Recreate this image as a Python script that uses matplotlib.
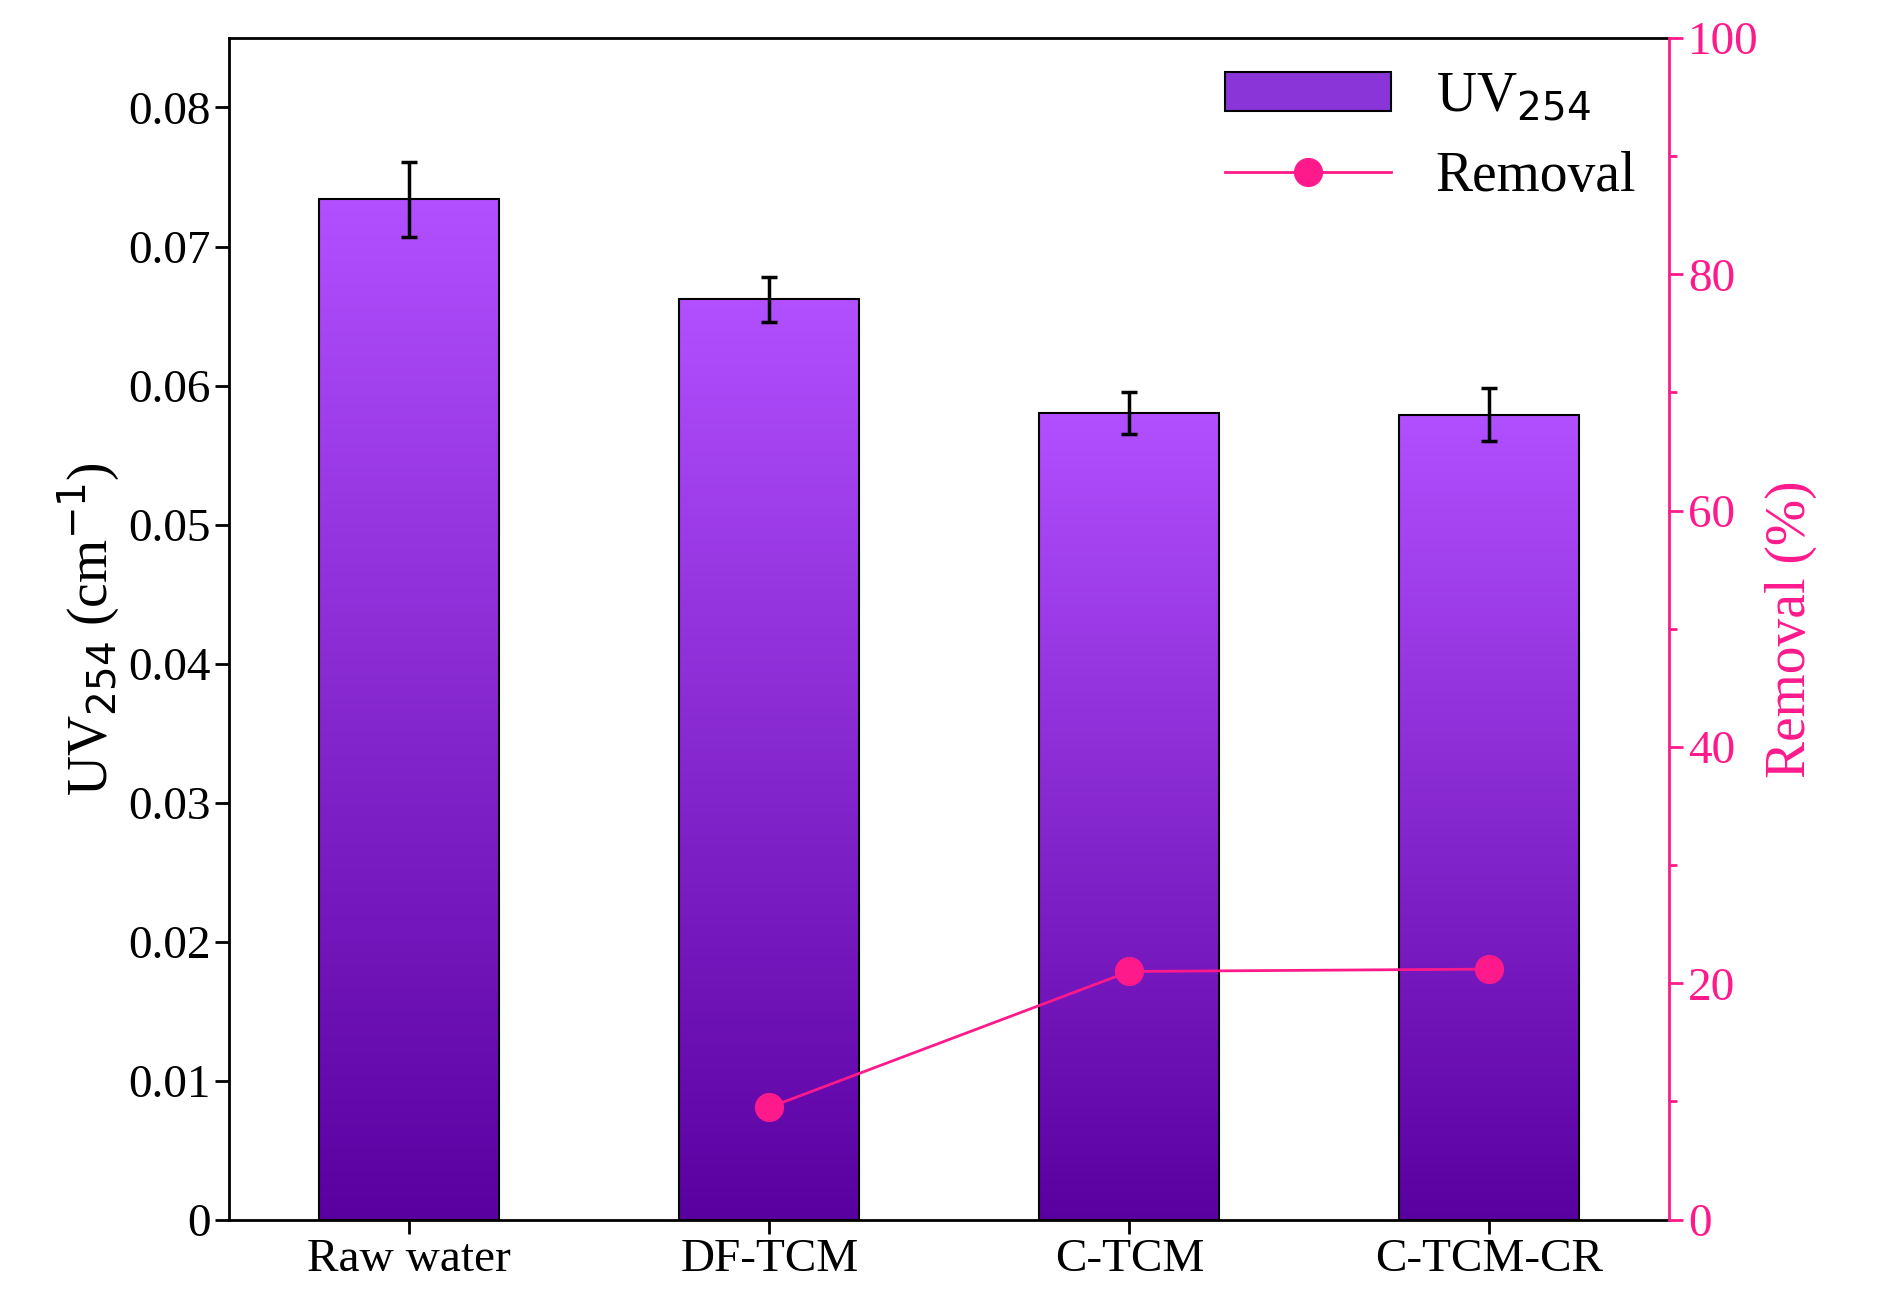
import numpy as np
import matplotlib
matplotlib.use("Agg")
import matplotlib.pyplot as plt
from matplotlib.patches import Patch
from matplotlib.lines import Line2D
from matplotlib.colors import LinearSegmentedColormap

categories = ["Raw water", "DF-TCM", "C-TCM", "C-TCM-CR"]
uv254 = [0.0734, 0.0662, 0.0580, 0.0579]
uv_err = [0.0027, 0.0016, 0.0015, 0.0019]
rem_cats = ["DF-TCM", "C-TCM", "C-TCM-CR"]
removal = [9.5, 21.0, 21.2]

plt.rcParams["font.family"] = "Liberation Serif"
pink = "#FF1A8C"
fig = plt.figure(figsize=(18.95, 13.1), dpi=100)
ax = fig.add_axes([0.121, 0.069, 0.76, 0.902])
x = np.arange(len(categories))
cmap = LinearSegmentedColormap.from_list("g", ["#5A00A0", "#B24FFF"])
bars = ax.bar(x, uv254, width=0.5, color="none", edgecolor="black", linewidth=1.5, zorder=3)
grad = np.linspace(0, 1, 256).reshape(-1, 1)
for b in bars:
    x0, w, h = b.get_x(), b.get_width(), b.get_height()
    im = ax.imshow(grad, cmap=cmap, origin="lower", aspect="auto",
                   extent=[x0, x0 + w, 0, h], zorder=2)
    im.set_clip_path(b)
ax.errorbar(x, uv254, yerr=uv_err, fmt="none", ecolor="black", elinewidth=2.5, capsize=6, capthick=2.5, zorder=4)
ax.set_xlim(-0.5, 3.5)
ax.set_ylim(0, 0.085)
ax.set_yticks(np.arange(0, 0.081, 0.01))
ax.set_yticklabels(["0"] + [f"{v:.2f}" for v in np.arange(0.01, 0.081, 0.01)])
ax.set_xticks(x)
ax.set_xticklabels(categories)
ax.tick_params(labelsize=34, width=2, length=10)
ax.set_ylabel(r"UV$_{254}$ (cm$^{-1}$)", fontsize=40)
for s in ax.spines.values():
    s.set_linewidth(2)
ax.spines["right"].set_visible(False)

ax2 = ax.twinx()
ax2.set_ylim(0, 100)
xr = [categories.index(c) for c in rem_cats]
ax2.plot(xr, removal, color=pink, lw=2, marker="o", ms=20, mfc=pink, mec=pink, zorder=5)
ax2.set_yticks(np.arange(0, 101, 20))
ax2.set_yticks(np.arange(0, 101, 10), minor=True)
ax2.tick_params(axis="y", colors=pink, labelsize=34, width=2, length=10)
ax2.tick_params(axis="y", which="minor", colors=pink, width=2, length=6)
ax2.spines["right"].set_color(pink)
ax2.spines["right"].set_linewidth(2)
for k in ["left", "top", "bottom"]:
    ax2.spines[k].set_visible(False)
ax2.set_ylabel("Removal (%)", fontsize=40, color=pink)

handles = [Patch(facecolor="#8A35D8", edgecolor="black", linewidth=1.5),
           Line2D([], [], color=pink, lw=2, marker="o", ms=20, mfc=pink, mec=pink)]
ax2.legend(handles, [r"UV$_{254}$", "Removal"], loc="upper right", frameon=False,
           fontsize=40, handlelength=3, borderaxespad=0.2)
fig.savefig("out.png", dpi=100)
